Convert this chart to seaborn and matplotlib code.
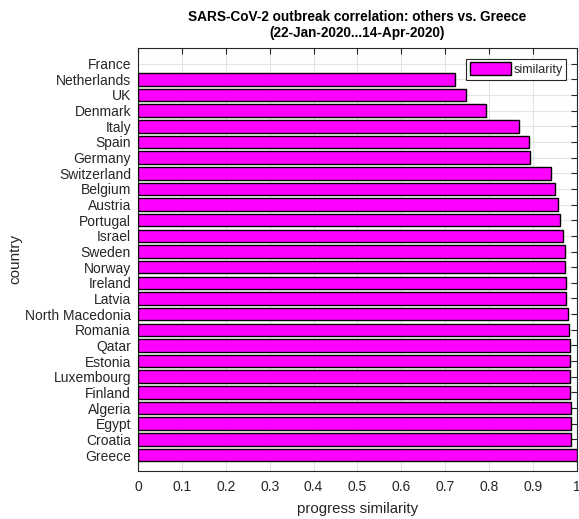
import numpy as np
import pandas as pd
import matplotlib
matplotlib.use("Agg")
import matplotlib.pyplot as plt
import seaborn as sns

countries = ["France", "Netherlands", "UK", "Denmark", "Italy", "Spain", "Germany",
             "Switzerland", "Belgium", "Austria", "Portugal", "Israel", "Sweden",
             "Norway", "Ireland", "Latvia", "North Macedonia", "Romania", "Qatar",
             "Estonia", "Luxembourg", "Finland", "Algeria", "Egypt", "Croatia", "Greece"]
similarity = [np.nan, 0.723, 0.747, 0.792, 0.868, 0.890, 0.894,
              0.941, 0.950, 0.956, 0.962, 0.969, 0.972,
              0.972, 0.974, 0.974, 0.979, 0.981, 0.983,
              0.983, 0.985, 0.985, 0.987, 0.987, 0.987, 1.0]
xticks = np.round(np.arange(0, 1.01, 0.1), 1)
xtick_labels = ["0", "0.1", "0.2", "0.3", "0.4", "0.5", "0.6", "0.7", "0.8", "0.9", "1"]

df = pd.DataFrame({"country": countries, "similarity": similarity})

sns.set_style("white")
plt.rcParams["font.family"] = ["Liberation Sans", "DejaVu Sans"]
txt = "#262626"

fig = plt.figure(figsize=(5.79, 5.19), dpi=100)
ax = fig.add_axes([0.2383, 0.0931, 0.7582, 0.8144])

sns.barplot(data=df, x="similarity", y="country", order=countries, orient="h",
            color="#ff00ff", saturation=1, width=0.8, edgecolor="black",
            linewidth=1.0, label="similarity", ax=ax, zorder=3)

ax.set_xlim(0, 1)
ax.set_ylim(len(countries), -1)
ax.set_xticks(xticks)
ax.set_xticklabels(xtick_labels)
ax.grid(True, color="#e3e3e3", linewidth=0.8, zorder=0)
ax.set_axisbelow(True)
ax.tick_params(axis="both", direction="in", top=True, right=True, length=4,
               width=0.8, color="#262626", labelsize=10, labelcolor=txt)
ax.tick_params(axis="x", pad=6.5)
ax.tick_params(axis="y", pad=5)
for s in ax.spines.values():
    s.set_color("#262626")
    s.set_linewidth(0.8)

ax.set_xlabel("progress similarity", fontsize=10.8, color=txt, labelpad=6)
ax.set_ylabel("country", fontsize=11, color=txt, labelpad=1.5)
ax.set_title("SARS-CoV-2 outbreak correlation: others vs. Greece\n(22-Jan-2020...14-Apr-2020)",
             fontsize=9.8, fontweight="bold", color="black", pad=8, linespacing=1.2)

leg = ax.legend(loc="upper right", fontsize=9, frameon=True, fancybox=False,
                edgecolor="#262626", framealpha=1, handlelength=3.3, handleheight=1.2,
                handletextpad=0.2, borderpad=0.3, borderaxespad=0.85)
leg.get_frame().set_linewidth(0.8)
for t in leg.get_texts():
    t.set_color(txt)

fig.savefig("out.png", dpi=100)
